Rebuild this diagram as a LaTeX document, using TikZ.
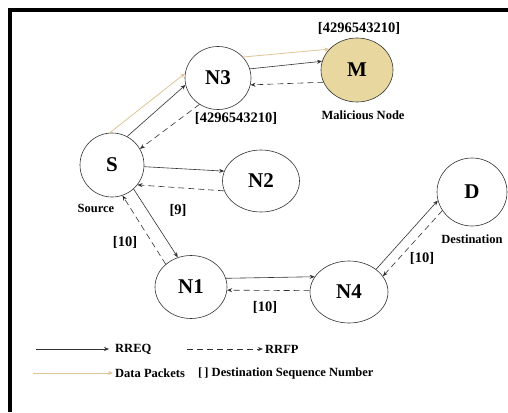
\documentclass[tikz,border=0pt]{standalone}
\usepackage{fontspec}
\setmainfont{Liberation Serif}
\usetikzlibrary{shapes.geometric,arrows.meta}
\definecolor{tanfill}{RGB}{232,216,160}
\definecolor{tanline}{RGB}{222,196,150}
\definecolor{ln}{RGB}{50,50,50}
\tikzset{
  x=1pt,y=-1pt,
  nd/.style={ellipse,draw=ln,line width=0.6pt,inner sep=0pt,font=\fontsize{21}{21}\selectfont\bfseries},
  captxt/.style={inner sep=0pt,font=\fontsize{12.5}{12.5}\selectfont\bfseries},
  num/.style={inner sep=0pt,font=\fontsize{14.5}{14.5}\selectfont\bfseries},
  req/.style={draw=ln,line width=0.6pt,-{Stealth[length=5pt,width=4pt]}},
  rep/.style={draw=ln,line width=0.6pt,dash pattern=on 6pt off 4pt,-{Stealth[length=5pt,width=4pt]}},
  dat/.style={draw=tanline,line width=0.8pt,-{Stealth[length=5pt,width=4pt]}},
}
\begin{document}
\begin{tikzpicture}
\useasboundingbox (0,0) rectangle (508,412);
\fill[white] (0,0) rectangle (508,412);
% frame
\draw[line width=4pt,line cap=butt] (10,412) -- (10,10) -- (508,10);

% nodes
\node[nd,minimum width=64,minimum height=64] (S) at (112,165) {S};
\node[nd,minimum width=66,minimum height=63] (N3) at (218,78) {N3};
\node[nd,fill=tanfill,minimum width=72,minimum height=64] (M) at (357,70) {M};
\node[nd,minimum width=77,minimum height=62] (N2) at (261,181) {N2};
\node[nd,minimum width=70,minimum height=68] (D) at (472,192) {D};
\node[nd,minimum width=72,minimum height=63] (N1) at (191,287) {N1};
\node[nd,minimum width=78,minimum height=62] (N4) at (349,292) {N4};

% labels
\node[num] (lm) at (359,28) {[4296543210]};
\node[num] (l3) at (236,118) {[4296543210]};
\node[captxt] (mal) at (363,115) {Malicious Node};
\node[captxt] (src) at (96,208) {Source};
\node[captxt] (dst) at (472,239) {Destination};
\node[num] (l9) at (178,210) {[9]};
\node[num] (l10a) at (125,242) {[10]};
\node[num] (l10b) at (265,307) {[10]};
\node[num] (l10c) at (422,258) {[10]};

% connectors
\draw[dat] (S.94) -- (N3.172);
\draw[req] (S.62) -- (N3.192);
\draw[rep] (N3.235) -- (S.30);
\draw[dat] (N3.40) -- (M.143);
\draw[req] (N3.16) -- (M.166);
\draw[rep] (M.200) -- (N3.-12);
\draw[req] (S.-3) -- (N2.165);
\draw[rep] (N2.195) -- (S.-38);
\draw[req] (S.-48) -- (N1.114);
\draw[rep] (N1.138) -- (S.-71);
\draw[req] (N1.14) -- (N4.156);
\draw[rep] (N4.178) -- (N1.-5);
\draw[req] (N4.40) -- (D.194);
\draw[rep] (D.212) -- (N4.25);

% legend
\node[captxt,anchor=west] (t1) at (115,349) {RREQ};
\node[captxt,anchor=west] (t2) at (265,349) {RRFP};
\node[captxt,anchor=west] (t3) at (115,373) {Data Packets};
\node[captxt,anchor=west] (t4) at (198,373) {[\,] Destination Sequence Number};
\coordinate (c1) at (36,349);
\coordinate (c2) at (187,349);
\coordinate (c3) at (33,373);
\draw[req,shorten >=6pt] (c1) -- (t1.west);
\draw[rep,shorten >=2pt] (c2) -- (t2.west);
\draw[dat,shorten >=2pt] (c3) -- (t3.west);
\end{tikzpicture}
\end{document}
